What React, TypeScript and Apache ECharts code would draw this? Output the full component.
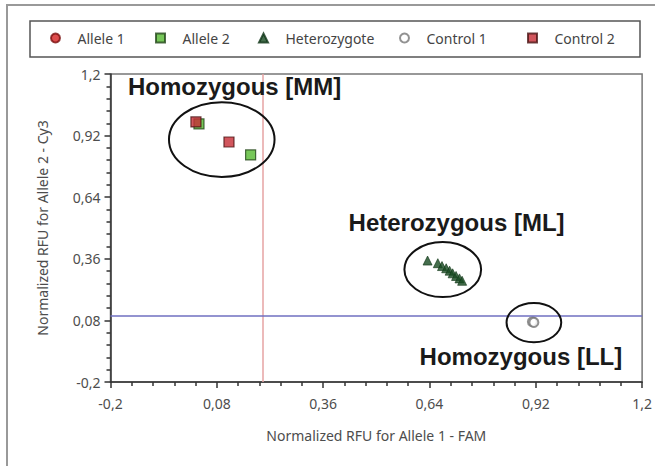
import React, { useEffect, useRef } from "react";
import * as echarts from "echarts";

// ---- data ----
const seriesNames = ["Allele 1", "Allele 2", "Heterozygote", "Control 1", "Control 2"];
const allele1: number[][] = [];
const allele2 = [
  [0.033, 0.973],
  [0.169, 0.832],
];
const heterozygote = [
  [0.635, 0.352],
  [0.662, 0.34],
  [0.673, 0.327],
  [0.684, 0.317],
  [0.693, 0.306],
  [0.701, 0.294],
  [0.71, 0.282],
  [0.719, 0.271],
  [0.726, 0.26],
];
const control1 = [
  [0.911, 0.074],
  [0.915, 0.071],
];
const control2 = [
  [0.025, 0.982],
  [0.112, 0.891],
];
const thresholdX = 0.195;
const thresholdY = 0.105;
const tickLabels = ["-0,2", "0,08", "0,36", "0,64", "0,92", "1,2"];
// cluster ellipses: [centerX, centerY, radiusX, radiusY] in data units
const clusterEllipses = [
  [0.093, 0.902, 0.139, 0.17],
  [0.675, 0.311, 0.101, 0.125],
  [0.915, 0.07, 0.072, 0.089],
];
const clusterLabelTexts = ["Homozygous [MM]", "Heterozygous [ML]", "Homozygous [LL]"];
const clusterLabelPos = [
  [-0.154, 1.141],
  [0.427, 0.527],
  [0.614, -0.082],
];

const AXIS_MIN = -0.2;
const AXIS_MAX = 1.2;
const AXIS_STEP = 0.28;
const FONT = '"Noto Sans", sans-serif';

const SQUARE = "path://M0,0H10V10H0Z";
const TRIANGLE = "path://M5,0L10,10H0Z";

const fmt = (v: number) => {
  const i = Math.round((v - AXIS_MIN) / AXIS_STEP);
  return tickLabels[i] ?? "";
};

// legend item left positions (pixels)
const legendLefts = [50, 155, 258, 399, 527];

export default function App() {
  const ref = useRef<HTMLDivElement>(null);
  useEffect(() => {
    document.body.style.margin = "0";
    if (!ref.current) return;
    const chart = echarts.init(ref.current, null, { renderer: "svg" });

    const axisCommon = {
      type: "value" as const,
      min: AXIS_MIN,
      max: AXIS_MAX,
      interval: AXIS_STEP,
      splitLine: { show: false },
      axisLine: { show: true, onZero: false, lineStyle: { color: "#333", width: 1.5 } },
      axisTick: { show: true, length: 6, lineStyle: { color: "#333", width: 1.5 } },
      minorTick: { show: true, splitNumber: 5, length: 4, lineStyle: { color: "#333", width: 1.5 } },
      axisLabel: { formatter: fmt, color: "#4d4d4d", fontFamily: FONT, fontSize: 14 },
      nameLocation: "middle" as const,
      nameTextStyle: { color: "#4d4d4d", fontFamily: FONT, fontSize: 14 },
    };

    chart.setOption({
      animation: false,
      backgroundColor: "#fff",
      graphic: [
        {
          type: "rect",
          silent: true,
          shape: { x: 7, y: 5, width: 680, height: 490 },
          style: { fill: "none", stroke: "#999", lineWidth: 2 },
        },
        {
          type: "rect",
          silent: true,
          shape: { x: 30, y: 21, width: 610, height: 36 },
          style: { fill: "#fff", stroke: "#555", lineWidth: 1.5 },
        },
      ],
      legend: seriesNames.map((name, i) => ({
        data: [name],
        left: legendLefts[i],
        top: 31,
        itemWidth: 34,
        itemHeight: 9,
        padding: 0,
        textStyle: { fontFamily: FONT, fontSize: 14, color: "#444" },
      })),
      grid: {
        left: 110.5,
        right: 12,
        top: 74,
        bottom: 84,
        show: true,
        borderColor: "#777",
        borderWidth: 1.5,
        backgroundColor: "#fff",
      },
      xAxis: { ...axisCommon, name: "Normalized RFU for Allele 1 - FAM", nameGap: 46, axisLabel: { ...axisCommon.axisLabel, margin: 14 } },
      yAxis: { ...axisCommon, name: "Normalized RFU for Allele 2 - Cy3", nameGap: 61, axisLabel: { ...axisCommon.axisLabel, margin: 10 } },
      series: [
        {
          name: "Allele 1",
          type: "scatter",
          symbol: "circle",
          symbolSize: 9,
          data: allele1,
          itemStyle: { color: "#d42020", borderColor: "#7a1010", borderWidth: 1 },
          markLine: {
            silent: true,
            symbol: "none",
            label: { show: false },
            data: [
              { xAxis: thresholdX, lineStyle: { color: "#e6a3a3", width: 1.5, type: "solid" } },
              { yAxis: thresholdY, lineStyle: { color: "#6f6fc0", width: 1.5, type: "solid" } },
            ],
          },
        },
        {
          name: "Allele 2",
          type: "scatter",
          symbol: SQUARE,
          symbolSize: 10,
          data: allele2,
          itemStyle: { color: "#55b92f", borderColor: "#23461a", borderWidth: 1.2 },
        },
        {
          name: "Heterozygote",
          type: "scatter",
          symbol: TRIANGLE,
          symbolSize: 9,
          data: heterozygote,
          itemStyle: { color: "#164a20", borderColor: "#0f3516", borderWidth: 0.8 },
        },
        {
          name: "Control 1",
          type: "scatter",
          symbol: "circle",
          symbolSize: 9,
          data: control1,
          itemStyle: { color: "#ffffff", borderColor: "#777", borderWidth: 2 },
        },
        {
          name: "Control 2",
          type: "scatter",
          symbol: SQUARE,
          symbolSize: 10,
          data: control2,
          itemStyle: { color: "#c52c35", borderColor: "#4a1414", borderWidth: 1.2 },
        },
        {
          name: "clusters",
          type: "custom",
          silent: true,
          clip: false,
          data: clusterEllipses,
          renderItem: (params: any, api: any) => {
            const c = api.coord([api.value(0), api.value(1)]);
            const rx = api.size([api.value(2), 0])[0];
            const ry = api.size([0, api.value(3)])[1];
            return {
              type: "ellipse",
              shape: { cx: c[0], cy: c[1], rx, ry },
              style: { fill: "none", stroke: "#111", lineWidth: 2 },
            };
          },
          z: 5,
        },
        {
          name: "labels",
          type: "custom",
          silent: true,
          clip: false,
          data: clusterLabelPos.map((p, i) => [p[0], p[1], i]),
          renderItem: (params: any, api: any) => {
            const c = api.coord([api.value(0), api.value(1)]);
            const i = api.value(2);
            return {
              type: "text",
              x: c[0],
              y: c[1],
              style: {
                text: clusterLabelTexts[i],
                fill: "#1a1a1a",
                font: 'bold 24px "Liberation Sans", Arial, sans-serif',
                align: "left",
                verticalAlign: "middle",
              },
            };
          },
          z: 6,
        },
      ],
    });
    return () => chart.dispose();
  }, []);
  return <div ref={ref} style={{ width: 655, height: 466 }} />;
}
